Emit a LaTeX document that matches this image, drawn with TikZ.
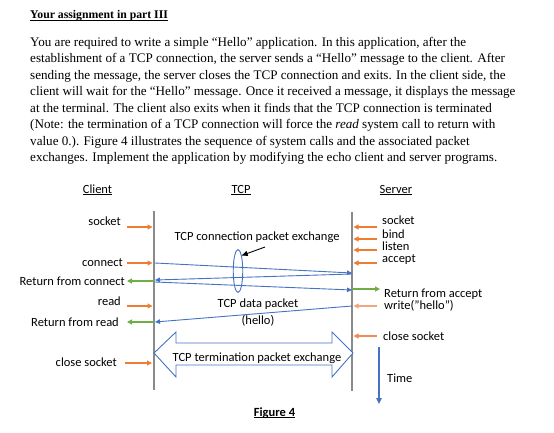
\documentclass[tikz,border=0pt]{standalone}
\usepackage{fontspec}
\setmainfont{Liberation Serif}
\newfontfamily\calib{Carlito}
\usetikzlibrary{arrows.meta,shapes.geometric}
\definecolor{offorange}{HTML}{ED7D31}
\definecolor{lightorange}{HTML}{F4A57C}
\definecolor{midorange}{HTML}{EF8C55}
\definecolor{offgreen}{HTML}{70AD47}
\definecolor{offblue}{HTML}{4472C4}
\definecolor{lifegray}{HTML}{8A8A8A}
\tikzset{
  para/.style={anchor=base west, inner sep=0pt, font=\fontsize{13.1}{15}\selectfont},
  lbl/.style={inner sep=0pt, font=\calib\fontsize{12.5}{15}\selectfont},
  lblR/.style={lbl, anchor=base east},
  lblL/.style={lbl, anchor=base west},
  lblC/.style={lbl, anchor=base},
  lifeline/.style={draw=lifegray, line width=1.3pt},
  callarrow/.style={offorange, line width=1.1pt, -{Triangle[length=5pt,width=5pt]}},
  retarrow/.style={offgreen, line width=1.1pt, -{Triangle[length=5pt,width=5pt]}},
  pkt/.style={offblue, line width=0.9pt, -{Triangle[length=5pt,width=4.5pt]}},
}
\begin{document}
\begin{tikzpicture}[x=1pt,y=-1pt]
\useasboundingbox (0,0) rectangle (554,432);
% ---------- text part ----------
\node[anchor=base west, inner sep=0pt, font=\bfseries\fontsize{11.75}{14}\selectfont] (title) at (30,18.6) {Your assignment in part III};
\draw[line width=0.7pt] ([yshift=-1.6pt]title.base west) -- ([yshift=-1.6pt]title.base east);
\node[para] (p1) at (30,46.5) {You are required to write a simple “Hello” application. In this application, after the};
\node[para] (p2) at (30,62.9) {establishment of a TCP connection, the server sends a “Hello” message to the client. After};
\node[para] (p3) at (30,79.4) {sending the message, the server closes the TCP connection and exits. In the client side, the};
\node[para] (p4) at (30,95.8) {client will wait for the “Hello” message. Once it received a message, it displays the message};
\node[para] (p5) at (30,112.3) {at the terminal. The client also exits when it finds that the TCP connection is terminated};
\node[para] (p6) at (30,128.7) {(Note: the termination of a TCP connection will force the \textit{read} system call to return with};
\node[para] (p7) at (30,145.2) {value 0.). Figure 4 illustrates the sequence of system calls and the associated packet};
\node[para] (p8) at (30,161.6) {exchanges. Implement the application by modifying the echo client and server programs.};
% ---------- headers ----------
\node[lblC] (hclient) at (97.5,193) {Client};
\node[lblC] (htcp) at (241,193) {TCP};
\node[lblC] (hserver) at (396,193) {Server};
\foreach \h in {hclient,htcp,hserver}
  \draw[line width=0.6pt] ([yshift=-1.6pt]\h.base west) -- ([yshift=-1.6pt]\h.base east);
% ---------- lifelines ----------
\coordinate (ctop) at (154,211);
\coordinate (cbot) at (154,390);
\coordinate (stop) at (352,212);
\coordinate (sbot) at (352,391);
\draw[lifeline] (ctop) -- (cbot);
\draw[lifeline] (stop) -- (sbot);
% ---------- client labels ----------
\node[lblR] (csocket) at (121,225) {socket};
\node[lblR] (cconnect) at (123,266) {connect};
\node[lblR] (cretconn) at (125,285) {Return from connect};
\node[lblR] (cread) at (121,305) {read};
\node[lblR] (cretread) at (119,326) {Return from read};
\node[lblR] (cclose) at (117,366) {close socket};
% client arrow coordinates
\coordinate (a1s) at (127,227);   \coordinate (a1e) at (152.5,227);
\coordinate (a2s) at (127,263);   \coordinate (a2e) at (152.5,263);
\coordinate (a3s) at (154,281);   \coordinate (a3e) at (127,281);
\coordinate (a4s) at (127,306);   \coordinate (a4e) at (152.5,306);
\coordinate (a5s) at (154,322);   \coordinate (a5e) at (127,322);
\coordinate (a6s) at (125,363);   \coordinate (a6e) at (152,363);
\draw[callarrow] (a1s) -- (a1e);
\draw[callarrow] (a2s) -- (a2e);
\draw[retarrow] (a3s) -- (a3e);
\draw[callarrow] (a4s) -- (a4e);
\draw[retarrow] (a5s) -- (a5e);
\draw[callarrow] (a6s) -- (a6e);
% ---------- server labels ----------
\node[lblL] (ssocket) at (382,224) {socket};
\node[lblL] (sbind) at (382,238.5) {bind};
\node[lblL] (slisten) at (382,250.5) {listen};
\node[lblL] (saccept) at (382,262) {accept};
\node[lblL] (sretacc) at (384,297) {Return from accept};
\node[lblL] (swrite) at (384,309) {write(”hello”)};
\node[lblL] (sclose) at (383,340) {close socket};
\node[lblL] (time) at (387,382) {Time};
\coordinate (b1s) at (377,227);   \coordinate (b1e) at (353.5,227);
\coordinate (b2s) at (377,239);   \coordinate (b2e) at (353.5,239);
\coordinate (b3s) at (377,250);   \coordinate (b3e) at (353.5,250);
\coordinate (b4s) at (377,263);   \coordinate (b4e) at (353.5,263);
\coordinate (b5s) at (352,289);   \coordinate (b5e) at (380,289);
\coordinate (b6s) at (377,306);   \coordinate (b6e) at (353.5,306);
\coordinate (b7s) at (377,336);   \coordinate (b7e) at (353.5,336);
\draw[callarrow] (b1s) -- (b1e);
\draw[callarrow] (b2s) -- (b2e);
\draw[callarrow] (b3s) -- (b3e);
\draw[callarrow] (b4s) -- (b4e);
\draw[retarrow] (b5s) -- (b5e);
\draw[callarrow, lightorange] (b6s) -- (b6e);
\draw[callarrow, midorange] (b7s) -- (b7e);
% time arrow
\coordinate (t1) at (379,347);
\coordinate (t2) at (379,404);
\draw[offblue, line width=1.1pt, -{Triangle[length=6pt,width=5.5pt]}] (t1) -- (t2);
% ---------- packet exchanges ----------
\coordinate (k1s) at (155,263);  \coordinate (k1e) at (352,273);
\coordinate (k2s) at (352,274);  \coordinate (k2e) at (155,280);
\coordinate (k3s) at (155,282);  \coordinate (k3e) at (352,290);
\coordinate (k4s) at (352,306);  \coordinate (k4e) at (155,322);
\draw[pkt] (k1s) -- (k1e);
\draw[pkt] (k2s) -- (k2e);
\draw[pkt] (k3s) -- (k3e);
\draw[pkt] (k4s) -- (k4e);
\node[lblC] (tcpconn) at (257,240) {TCP connection packet exchange};
\node[draw=offblue, line width=0.9pt, ellipse, minimum width=9.5pt, minimum height=43pt, inner sep=0pt] (ell) at (238,271) {};
\coordinate (bk) at (265,247);
\draw[black, line width=0.9pt, -{Triangle[length=6pt,width=5pt]}] (bk) -- (ell.north east);
\node[lblC] (tcpdata) at (258,307) {TCP data packet};
\node[lblC] (hello) at (258,324) {(hello)};
% termination block arrow
\draw[offblue, line width=0.9pt, fill=white]
  (154,353) -- (176,332) -- (176,343) -- (332,343) -- (332,332) -- (353,353)
  -- (332,377) -- (332,365) -- (176,365) -- (176,377) -- cycle;
\node[lblC] (term) at (257,361.3) {TCP termination packet exchange};
% figure caption
\node[lblC, font=\calib\bfseries\fontsize{12.5}{15}\selectfont] (fig) at (274.5,416) {Figure 4};
\draw[line width=0.7pt] ([yshift=-1.6pt]fig.base west) -- ([yshift=-1.6pt]fig.base east);
\end{tikzpicture}
\end{document}
